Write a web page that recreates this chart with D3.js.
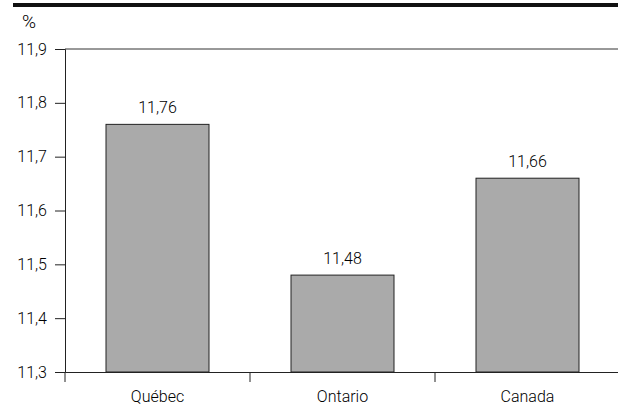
<!DOCTYPE html>
<html>
<head>
<meta charset="utf-8">
<script src="https://cdn.jsdelivr.net/npm/d3@7"></script>
<style>
  body { margin: 0; background: #fff; }
  text { font-family: Roboto, "Liberation Sans", Arial, sans-serif; font-weight: 300; fill: #000; }
</style>
</head>
<body>
<svg id="chart" width="618" height="408"></svg>
<script>
const categories = ['Québec', 'Ontario', 'Canada']
const values = [11.76, 11.48, 11.66]
const yTicks = [11.3, 11.4, 11.5, 11.6, 11.7, 11.8, 11.9]

const fmt = (v, d) => v.toFixed(d).replace('.', ',')
const FONT = 'Roboto, "Liberation Sans", Arial, sans-serif'

const svg = d3.select('#chart')
const mLeft = 65, mRight = 620, mTop = 49, mBottom = 372

const x = d3.scaleBand().domain(categories).range([mLeft, mRight]).paddingInner(0).paddingOuter(0)
const y = d3.scaleLinear().domain([11.3, 11.9]).range([mBottom, mTop])

// heavy rule across the top
svg.append('rect').attr('x', 13).attr('y', 3).attr('width', 605).attr('height', 4).attr('fill', '#111')

svg.append('text').attr('x', 22).attr('y', 28).attr('font-size', 19).text('%')

// top line at 11.9
svg.append('line')
  .attr('x1', mLeft).attr('x2', 618)
  .attr('y1', y(11.9)).attr('y2', y(11.9))
  .attr('stroke', '#333').attr('stroke-width', 1)

// bars
const barW = 103
svg.append('g').selectAll('rect')
  .data(values)
  .enter().append('rect')
  .attr('x', (d, i) => x(categories[i]) + x.bandwidth() / 2 - barW / 2)
  .attr('y', (d) => y(d))
  .attr('width', barW)
  .attr('height', (d) => y(11.3) - y(d))
  .attr('fill', '#aaaaaa')
  .attr('stroke', '#222').attr('stroke-width', 1)

svg.append('g').selectAll('text')
  .data(values)
  .enter().append('text')
  .attr('x', (d, i) => x(categories[i]) + x.bandwidth() / 2)
  .attr('y', (d) => y(d) - 11)
  .attr('text-anchor', 'middle')
  .attr('font-size', 16)
  .text((d) => fmt(d, 2))

// y axis
const yAxis = svg.append('g')
  .attr('transform', `translate(${mLeft},0)`)
  .call(d3.axisLeft(y).tickValues(yTicks).tickSize(10).tickPadding(8).tickFormat((d) => fmt(d, 1)))
yAxis.select('.domain').attr('stroke', '#222')
yAxis.selectAll('.tick line').attr('stroke', '#222')
yAxis.selectAll('text').attr('font-size', 16).attr('fill', '#000')
  .style('font-family', FONT).style('font-weight', 300)

// x axis
const xAxis = svg.append('g')
  .attr('transform', `translate(0,${mBottom})`)
  .call(d3.axisBottom(x).tickSize(0).tickPadding(19))
xAxis.select('.domain').attr('stroke', '#222')
xAxis.selectAll('text').attr('font-size', 16).attr('fill', '#000')
  .style('font-family', FONT).style('font-weight', 300)

// band boundary ticks
svg.append('g').selectAll('line')
  .data(categories)
  .enter().append('line')
  .attr('x1', (d) => x(d)).attr('x2', (d) => x(d))
  .attr('y1', mBottom).attr('y2', mBottom + 10)
  .attr('stroke', '#222')
</script>
</body>
</html>
